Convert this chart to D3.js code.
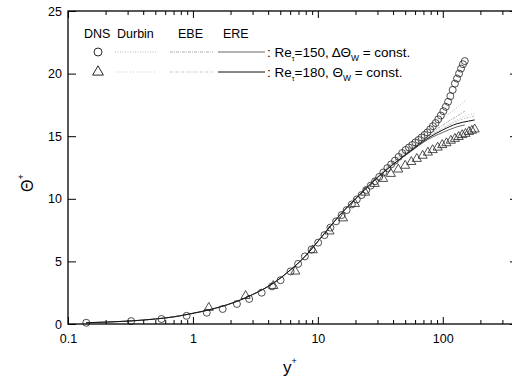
<!DOCTYPE html>
<html>
<head>
<meta charset="utf-8">
<script src="https://cdn.jsdelivr.net/npm/d3@7"></script>
<style>
  body { margin: 0; background: #fff; }
  svg { font-family: "Liberation Sans", Arial, sans-serif; }
</style>
</head>
<body>
<svg id="chart" width="512" height="377"></svg>
<script>
// DNS, Re_tau = 150, delta Theta_w = const. (circles)
const yPlusDNS150 = [0.14, 0.32, 0.56, 0.89, 1.29, 1.73, 2.25, 2.82, 3.55, 4.3, 5.03, 6.05, 6.95, 7.87, 8.9, 10.06,
  11.3, 12.6, 14, 15.5, 17, 18.7, 20.5, 22.4, 24.4, 26.5, 28.7, 31, 33.4, 36, 38.6, 41.4, 44.3, 47.3, 50.4,
  53.6, 57, 60.4, 64, 67.6, 71.4, 75.3, 79.3, 83.4, 87.6, 92, 96.4, 101, 105.6, 110.3, 115, 120, 125, 130,
  135, 140, 145, 150];
const thetaDNS150 = [0.1, 0.23, 0.4, 0.65, 0.9, 1.2, 1.6, 2.0, 2.5, 3.0, 3.5, 4.2, 4.8, 5.4, 5.95, 6.5,
  7.1, 7.7, 8.2, 8.7, 9.1, 9.55, 9.95, 10.3, 10.7, 11.05, 11.4, 11.75, 12.1, 12.45, 12.75, 13.05, 13.35, 13.65, 13.9,
  14.1, 14.3, 14.5, 14.7, 14.9, 15.1, 15.3, 15.55, 15.8, 16.05, 16.35, 16.65, 17.0, 17.35, 17.75, 18.2, 18.7, 19.2, 19.6,
  20.0, 20.4, 20.75, 21.0];

// DNS, Re_tau = 180, Theta_w = const. (triangles)
const yPlusDNS180 = [1.34, 2.64, 4.4, 6.6, 9.1, 12.4, 15.9, 19.8, 23.9, 28.5, 33.3, 38.4, 44, 50, 56, 62,
  69, 76, 83, 91, 99, 107, 116, 125, 134, 143, 152, 162, 171, 180];
const thetaDNS180 = [1.3, 2.25, 3.05, 4.2, 5.9, 7.4, 8.45, 9.6, 10.5, 11.2, 11.6, 12.0, 12.35, 12.65, 12.95, 13.2,
  13.45, 13.7, 13.9, 14.1, 14.3, 14.45, 14.65, 14.8, 14.95, 15.1, 15.2, 15.35, 15.45, 15.55];

// model predictions
const yPlusModel150 = [0.14, 0.2, 0.3, 0.5, 0.7, 0.94, 1.5, 2.4, 3, 4.4, 6, 7.2, 8.5, 10, 12, 15, 20, 25, 30, 40, 55, 75, 100, 130, 150];
const durbin150 = [0.1, 0.15, 0.23, 0.4, 0.57, 0.8, 1.25, 1.92, 2.35, 3.26, 4.3, 5.0, 5.75, 6.6, 7.55, 8.7, 10.0, 11.0, 11.8, 13.0, 14.2, 15.4, 16.4, 17.3, 17.8];
const ebe150 = [0.1, 0.15, 0.23, 0.4, 0.57, 0.8, 1.25, 1.92, 2.35, 3.26, 4.3, 5.0, 5.75, 6.6, 7.55, 8.7, 10.0, 10.95, 11.75, 12.9, 14.0, 15.0, 15.9, 16.6, 17.0];
const ere150 = [0.1, 0.15, 0.23, 0.4, 0.57, 0.8, 1.25, 1.92, 2.35, 3.26, 4.3, 5.0, 5.75, 6.6, 7.55, 8.7, 10.0, 10.95, 11.7, 12.75, 13.75, 14.7, 15.3, 15.75, 15.9];

const yPlusModel180 = [0.14, 0.2, 0.3, 0.5, 0.7, 0.94, 1.5, 2.4, 3, 4.4, 6, 7.2, 8.5, 10, 12, 15, 20, 25, 30, 40, 55, 75, 100, 130, 160, 180];
const durbin180 = [0.1, 0.15, 0.23, 0.4, 0.57, 0.8, 1.25, 1.92, 2.35, 3.26, 4.3, 5.0, 5.75, 6.6, 7.55, 8.7, 10.0, 10.95, 11.7, 12.8, 13.9, 14.9, 15.7, 16.3, 16.7, 16.8];
const ebe180 = [0.1, 0.15, 0.23, 0.4, 0.57, 0.8, 1.25, 1.92, 2.35, 3.26, 4.3, 5.0, 5.75, 6.6, 7.55, 8.7, 10.0, 10.95, 11.7, 12.75, 13.85, 14.85, 15.6, 16.2, 16.5, 16.6];
const ere180 = [0.1, 0.15, 0.23, 0.4, 0.57, 0.8, 1.25, 1.92, 2.35, 3.26, 4.3, 5.0, 5.75, 6.6, 7.55, 8.7, 10.0, 10.95, 11.7, 12.75, 13.8, 14.8, 15.5, 16.0, 16.2, 16.3];

const xMajorTicks = [0.1, 1, 10, 100];
const xMinorTicks = [0.2, 0.3, 0.4, 0.5, 0.6, 0.7, 0.8, 0.9, 2, 3, 4, 5, 6, 7, 8, 9,
  20, 30, 40, 50, 60, 70, 80, 90, 200, 300];
const yTicks = [0, 5, 10, 15, 20, 25];
const modelNames = ["Durbin", "EBE", "ERE"];

const margin = { left: 68, top: 11, right: -6, bottom: 53 };
const width = 512 - margin.left - margin.right;
const height = 377 - margin.top - margin.bottom;

const svg = d3.select("#chart");
const chart = svg.append("g").attr("transform", `translate(${margin.left},${margin.top})`);

const x = d3.scaleLog().domain([0.1, 400]).range([0, width]);
const y = d3.scaleLinear().domain([0, 25]).range([height, 0]);

// styles per model and case
const styles = {
  Durbin150: { stroke: "#aaa", width: 0.8, dash: "1,1.5" },
  EBE150: { stroke: "#999", width: 0.8, dash: "3,1,1,1" },
  ERE150: { stroke: "#555", width: 0.9, dash: null },
  Durbin180: { stroke: "#bbb", width: 0.8, dash: "1,2" },
  EBE180: { stroke: "#aaa", width: 0.8, dash: "2,1.5,1,1.5" },
  ERE180: { stroke: "#111", width: 1, dash: null },
};

const line = d3.line()
  .x(d => x(d[0]))
  .y(d => y(d[1]))
  .curve(d3.curveMonotoneX);

let series = [
  { key: "Durbin150", xs: yPlusModel150, ys: durbin150 },
  { key: "EBE150", xs: yPlusModel150, ys: ebe150 },
  { key: "ERE150", xs: yPlusModel150, ys: ere150 },
  { key: "Durbin180", xs: yPlusModel180, ys: durbin180 },
  { key: "EBE180", xs: yPlusModel180, ys: ebe180 },
  { key: "ERE180", xs: yPlusModel180, ys: ere180 },
];

chart.selectAll(".model")
  .data(series)
  .enter().append("path")
  .attr("class", "model")
  .attr("d", d => line(d.xs.map((v, i) => [v, d.ys[i]])))
  .attr("fill", "none")
  .attr("stroke", d => styles[d.key].stroke)
  .attr("stroke-width", d => styles[d.key].width)
  .attr("stroke-dasharray", d => styles[d.key].dash);

// DNS markers
let circlePts = yPlusDNS150.map((v, i) => [v, thetaDNS150[i]]);
chart.selectAll(".dns150")
  .data(circlePts)
  .enter().append("circle")
  .attr("class", "dns150")
  .attr("cx", d => x(d[0]))
  .attr("cy", d => y(d[1]))
  .attr("r", 3.5)
  .attr("fill", "none")
  .attr("stroke", "#222")
  .attr("stroke-width", 0.8);

const tri = d3.symbol().type(d3.symbolTriangle).size(36);
let triPts = yPlusDNS180.map((v, i) => [v, thetaDNS180[i]]);
chart.selectAll(".dns180")
  .data(triPts)
  .enter().append("path")
  .attr("class", "dns180")
  .attr("transform", d => `translate(${x(d[0])},${y(d[1])})`)
  .attr("d", tri)
  .attr("fill", "none")
  .attr("stroke", "#222")
  .attr("stroke-width", 0.8);

// axes, ticks pointing inward
function styleAxis(g) {
  g.select(".domain").remove();
  g.selectAll("line").attr("stroke", "#000").attr("stroke-width", 1);
  g.selectAll("text").attr("font-size", "12.5px").attr("fill", "#000");
}

chart.append("g")
  .attr("transform", `translate(0,${height})`)
  .call(d3.axisBottom(x).tickValues(xMajorTicks).tickSize(-7).tickPadding(10).tickFormat(d3.format("~g")))
  .call(styleAxis);
chart.append("g")
  .attr("transform", `translate(0,${height})`)
  .call(d3.axisBottom(x).tickValues(xMinorTicks).tickSize(-4).tickFormat(""))
  .call(styleAxis);
chart.append("g")
  .call(d3.axisTop(x).tickValues(xMajorTicks).tickSize(-7).tickFormat(""))
  .call(styleAxis);
chart.append("g")
  .call(d3.axisTop(x).tickValues(xMinorTicks).tickSize(-4).tickFormat(""))
  .call(styleAxis);
chart.append("g")
  .call(d3.axisLeft(y).tickValues(yTicks).tickSize(-8).tickPadding(6))
  .call(styleAxis);
chart.append("g")
  .attr("transform", `translate(${width},0)`)
  .call(d3.axisRight(y).tickValues(yTicks).tickSize(-8).tickFormat(""))
  .call(styleAxis);

chart.append("rect")
  .attr("width", width)
  .attr("height", height)
  .attr("fill", "none")
  .attr("stroke", "#000")
  .attr("stroke-width", 1.3);

// axis titles
const xt = svg.append("text")
  .attr("x", 283)
  .attr("y", 373)
  .attr("font-size", "17px");
xt.append("tspan").text("y");
xt.append("tspan").attr("font-size", "9px").attr("dy", -9).text("+");

const yt = svg.append("text")
  .attr("transform", "translate(33,192) rotate(-90)")
  .attr("font-size", "16px");
yt.append("tspan").text("Θ");
yt.append("tspan").attr("font-size", "9px").attr("dy", -9).text("+");

// legend
const legend = svg.append("g");
const headX = [84, 117, 178, 223];
["DNS"].concat(modelNames).forEach((t, i) => {
  legend.append("text").attr("x", headX[i]).attr("y", 38).attr("font-size", "12.5px").text(t);
});

const rows = [
  { y: 52, re: "150", pre: "ΔΘ", keys: ["Durbin150", "EBE150", "ERE150"], mark: "circle" },
  { y: 72, re: "180", pre: "Θ", keys: ["Durbin180", "EBE180", "ERE180"], mark: "triangle" },
];
const sampleX = [[115, 157], [170, 213], [218, 265]];

rows.forEach(r => {
  if (r.mark === "circle") {
    legend.append("circle").attr("cx", 98).attr("cy", r.y).attr("r", 4)
      .attr("fill", "none").attr("stroke", "#111").attr("stroke-width", 0.9);
  } else {
    legend.append("path").attr("transform", `translate(98,${r.y})`)
      .attr("d", d3.symbol().type(d3.symbolTriangle).size(50))
      .attr("fill", "none").attr("stroke", "#111").attr("stroke-width", 0.9);
  }
  r.keys.forEach((k, i) => {
    legend.append("line")
      .attr("x1", sampleX[i][0]).attr("x2", sampleX[i][1])
      .attr("y1", r.y).attr("y2", r.y)
      .attr("stroke", styles[k].stroke)
      .attr("stroke-width", styles[k].width)
      .attr("stroke-dasharray", styles[k].dash);
  });
  const t = legend.append("text").attr("x", 267).attr("y", r.y + 4.5).attr("font-size", "13.5px");
  t.append("tspan").text(": Re");
  t.append("tspan").attr("font-size", "7px").attr("dy", 4).text("τ");
  t.append("tspan").attr("dy", -4).text(`=${r.re}, ${r.pre}`);
  t.append("tspan").attr("font-size", "8.5px").attr("dy", 4).text("W");
  t.append("tspan").attr("dy", -4).text(" = const.");
});
</script>
</body>
</html>
